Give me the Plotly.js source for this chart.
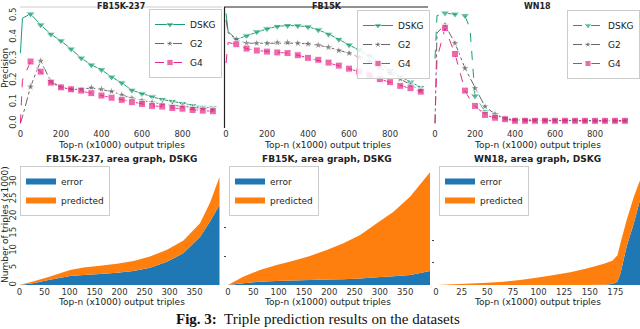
<!DOCTYPE html>
<html>
<head>
<meta charset="utf-8">
<script src="https://cdn.plot.ly/plotly-3.0.1.min.js"></script>
<style>
  html, body { margin: 0; padding: 0; background: #fff; }
  #chart { width: 640px; height: 329px; }
</style>
</head>
<body>
<div id="chart"></div>
<script>
// precision curves, x in thousands of output triples
const fb237_x = [0, 10, 50, 100, 150, 200, 250, 300, 350, 400, 450, 500, 550, 600, 650, 700, 750, 800, 850, 900, 950];
const fb237_dskg = [0.326, 0.488, 0.508, 0.457, 0.414, 0.383, 0.345, 0.303, 0.271, 0.249, 0.215, 0.188, 0.154, 0.137, 0.123, 0.111, 0.102, 0.092, 0.083, 0.075, 0.072];
const fb237_g2 = [0.0, 0.03, 0.17, 0.29, 0.195, 0.168, 0.158, 0.158, 0.165, 0.158, 0.148, 0.132, 0.117, 0.106, 0.097, 0.09, 0.084, 0.08, 0.074, 0.069, 0.065];
const fb237_g4 = [0.0, 0.2, 0.287, 0.24, 0.189, 0.167, 0.158, 0.152, 0.14, 0.129, 0.119, 0.109, 0.098, 0.09, 0.081, 0.078, 0.071, 0.068, 0.062, 0.059, 0.056];

const fb15k_x = [0, 10, 50, 100, 150, 200, 250, 300, 350, 400, 450, 500, 550, 600, 650, 700, 750, 800, 850, 900, 950];
const fb15k_dskg = [0.51, 0.426, 0.39, 0.406, 0.425, 0.439, 0.45, 0.454, 0.453, 0.448, 0.434, 0.414, 0.39, 0.364, 0.341, 0.313, 0.279, 0.245, 0.217, 0.192, 0.167];
const fb15k_g2 = [0.48, 0.42, 0.39, 0.372, 0.372, 0.372, 0.375, 0.375, 0.372, 0.369, 0.363, 0.353, 0.338, 0.326, 0.307, 0.287, 0.26, 0.233, 0.206, 0.178, 0.152];
const fb15k_g4 = [0.28, 0.375, 0.367, 0.347, 0.338, 0.333, 0.329, 0.326, 0.316, 0.304, 0.295, 0.282, 0.268, 0.254, 0.24, 0.223, 0.205, 0.191, 0.174, 0.163, 0.147];

const wn18_x = [0, 10, 50, 100, 150, 175, 200, 250, 300, 350, 400, 450, 500, 550, 600, 650, 700, 750, 800, 850, 900, 950];
const wn18_dskg = [0.3, 0.5, 0.512, 0.507, 0.5, 0.44, 0.127, 0.054, 0.039, 0.023, 0.016, 0.015, 0.015, 0.014, 0.014, 0.013, 0.013, 0.013, 0.012, 0.012, 0.012, 0.012];
const wn18_g2 = [0.0, 0.42, 0.457, 0.372, 0.256, 0.21, 0.163, 0.078, 0.043, 0.023, 0.016, 0.015, 0.014, 0.014, 0.013, 0.013, 0.013, 0.012, 0.012, 0.012, 0.012, 0.012];
const wn18_g4 = [0.0, 0.3, 0.442, 0.322, 0.152, 0.11, 0.081, 0.039, 0.026, 0.019, 0.012, 0.012, 0.012, 0.012, 0.012, 0.012, 0.012, 0.012, 0.012, 0.012, 0.012, 0.012];

// area graphs (x1000 triples)
const area_fb237_x = [0, 27, 61, 101, 128, 161, 195, 228, 261, 295, 328, 361, 381, 400];
const area_fb237_error = [0, 0.5, 1.5, 2.6, 2.9, 3.2, 3.6, 4.1, 5, 6.8, 9.3, 14, 18.5, 23.3];
const area_fb237_pred = [0, 0.5, 1.0, 1.8, 2.2, 2.4, 2.6, 2.9, 3.3, 3.5, 3.7, 4.0, 5.5, 8.2];

const area_fb15k_x = [0, 30, 63, 96, 129, 162, 195, 228, 261, 294, 327, 360, 400];
const area_fb15k_error = [0, 1.2, 2.3, 2.8, 3.1, 3.5, 3.8, 4, 4.6, 5.4, 6.2, 7, 9.8];
const area_fb15k_pred = [0, 4.6, 8.2, 11.2, 13.9, 16.9, 20.8, 25.2, 30.4, 37.9, 45.2, 55, 69.7];

const area_wn18_x = [0, 23, 50, 66, 82, 98, 115, 131, 147, 163, 172, 177, 180, 186, 193, 199];
const area_wn18_error = [0, 0, 0, 0, 0, 0, 0, 0, 0, 0.3, 1, 3, 10.6, 35, 56, 77];
const area_wn18_pred = [0, 0.8, 2.1, 3, 4.5, 6.6, 9, 11.5, 15, 18.7, 21, 24, 27.4, 24, 24, 18];

const prec_ticks = [0, 200, 400, 600, 800];
const prec_yticks = [0, 0.1, 0.2, 0.3, 0.4, 0.5];
const area_ticks = [0, 50, 100, 150, 200, 250, 300, 350];
const area_wn18_ticks = [0, 25, 50, 75, 100, 125, 150, 175];
const area_yticks = [0, 5, 10, 15, 20, 25, 30];

const W = 640, H = 329;
const FONT = 'DejaVu Sans';
const GREEN = '#1b9e77', GRAY = '#666666', PINK = '#e7298a';
const BLUE = '#1f77b4', ORANGE = '#ff7f0e';

const px = v => v / W;
const py = v => 1 - v / H;

// markers only every 50k, like markevery
const markSizes = (xs, s) => xs.map(x => (x > 0 && x % 50 === 0) ? s : 0);

const precision_sets = [
    {x: fb237_x, dskg: fb237_dskg, g2: fb237_g2, g4: fb237_g4},
    {x: fb15k_x, dskg: fb15k_dskg, g2: fb15k_g2, g4: fb15k_g4},
    {x: wn18_x, dskg: wn18_dskg, g2: wn18_g2, g4: wn18_g4},
];
const area_sets = [
    {x: area_fb237_x, error: area_fb237_error, pred: area_fb237_pred},
    {x: area_fb15k_x, error: area_fb15k_error, pred: area_fb15k_pred},
    {x: area_wn18_x, error: area_wn18_error, pred: area_wn18_pred},
];

const data = [];

precision_sets.forEach((d, i) => {
    const ax = i === 0 ? '' : String(i + 1);
    const legend = 'legend' + ax;
    data.push({
        x: d.x, y: d.dskg, xaxis: 'x' + ax, yaxis: 'y' + ax, legend,
        name: 'DSKG', mode: 'lines+markers', type: 'scatter',
        line: {color: GREEN, width: 1, dash: i === 2 ? 'dash' : 'solid'},
        marker: {symbol: 'triangle-down', size: markSizes(d.x, 8), color: GREEN},
    });
    data.push({
        x: d.x, y: d.g2, xaxis: 'x' + ax, yaxis: 'y' + ax, legend,
        name: 'G2', mode: 'lines+markers', type: 'scatter',
        line: {color: GRAY, width: 1, dash: 'dashdot'},
        marker: {symbol: 'star', size: markSizes(d.x, 7), color: GRAY},
    });
    data.push({
        x: d.x, y: d.g4, xaxis: 'x' + ax, yaxis: 'y' + ax, legend,
        name: 'G4', mode: 'lines+markers', type: 'scatter',
        line: {color: PINK, width: 1, dash: 'dash'},
        marker: {symbol: 'square', size: markSizes(d.x, 7), color: PINK},
    });
});

area_sets.forEach((d, i) => {
    const ax = String(i + 4);
    const legend = 'legend' + ax;
    data.push({
        x: d.x, y: d.error, xaxis: 'x' + ax, yaxis: 'y' + ax, legend,
        name: 'error', type: 'scatter', mode: 'none', stackgroup: 's' + ax,
        fillcolor: BLUE,
    });
    data.push({
        x: d.x, y: d.pred, xaxis: 'x' + ax, yaxis: 'y' + ax, legend,
        name: 'predicted', type: 'scatter', mode: 'none', stackgroup: 's' + ax,
        fillcolor: ORANGE,
    });
});

const tickfont = {family: FONT, size: 8.5, color: '#333'};
const baseAxis = {
    showgrid: false, zeroline: false, showline: false, ticks: '',
    tickfont, fixedrange: true,
};

const topY = [py(127), py(7)];
const botY = [py(285), py(168)];

const layout = {
    width: W, height: H,
    margin: {l: 0, r: 0, t: 0, b: 0},
    paper_bgcolor: '#fff', plot_bgcolor: '#fff',
    font: {family: FONT, size: 9, color: '#222'},
    showlegend: true,

    xaxis: {...baseAxis, domain: [px(19), px(222)], range: [-7, 995], tickvals: prec_ticks, anchor: 'y'},
    yaxis: {...baseAxis, domain: topY, range: [-0.017, 0.54], tickvals: prec_yticks, tickformat: '.1f', tickangle: -90, anchor: 'x'},
    xaxis2: {...baseAxis, domain: [px(224), px(430)], range: [-10, 995], tickvals: prec_ticks, anchor: 'y2'},
    yaxis2: {...baseAxis, domain: topY, range: [-0.017, 0.54], showticklabels: false, anchor: 'x2'},
    xaxis3: {...baseAxis, domain: [px(434), px(640)], range: [-5, 1025], tickvals: prec_ticks, anchor: 'y3'},
    yaxis3: {...baseAxis, domain: topY, range: [-0.017, 0.54], showticklabels: false, anchor: 'x3'},

    xaxis4: {...baseAxis, domain: [px(19), px(222)], range: [-1, 405], tickvals: area_ticks, anchor: 'y4'},
    yaxis4: {...baseAxis, domain: botY, range: [0, 34.1], tickvals: area_yticks, tickangle: -90, anchor: 'x4'},
    xaxis5: {...baseAxis, domain: [px(227), px(430)], range: [-2, 399], tickvals: area_ticks, anchor: 'y5'},
    yaxis5: {...baseAxis, domain: botY, range: [0, 82], tickvals: [20, 40], showticklabels: false,
             ticks: 'outside', ticklen: 2, tickcolor: '#444', anchor: 'x5'},
    xaxis6: {...baseAxis, domain: [px(435), px(640)], range: [-1, 199], tickvals: area_wn18_ticks, anchor: 'y6'},
    yaxis6: {...baseAxis, domain: botY, range: [0, 106], tickvals: [20, 40], showticklabels: false,
             ticks: 'outside', ticklen: 2, tickcolor: '#444', anchor: 'x6'},

    shapes: [
        {type: 'line', xref: 'paper', yref: 'paper', x0: px(20), x1: px(222), y0: py(7), y1: py(7),
         line: {color: '#cccccc', width: 1}},
        {type: 'line', xref: 'paper', yref: 'paper', x0: px(224.5), x1: px(224.5), y0: py(128), y1: py(7),
         line: {color: '#222', width: 1.2}},
        {type: 'line', xref: 'paper', yref: 'paper', x0: px(224), x1: px(428), y0: py(7), y1: py(7),
         line: {color: '#222', width: 1}},
    ],
    annotations: [],
};

const legendBase = {
    bgcolor: 'rgba(255,255,255,0.85)', bordercolor: '#cccccc', borderwidth: 1,
    font: {family: FONT, size: 9, color: '#222'}, tracegroupgap: 0,
    itemwidth: 30, yanchor: 'top', traceorder: 'normal',
};
layout.legend = {...legendBase, x: px(222), xanchor: 'right', y: py(9)};
layout.legend2 = {...legendBase, x: px(430), xanchor: 'right', y: py(10)};
layout.legend3 = {...legendBase, x: 1, xanchor: 'right', y: py(10)};
layout.legend4 = {...legendBase, x: px(20), xanchor: 'left', y: py(166)};
layout.legend5 = {...legendBase, x: px(229), xanchor: 'left', y: py(166)};
layout.legend6 = {...legendBase, x: px(439), xanchor: 'left', y: py(166)};

const note = (text, x, y, opts = {}) => layout.annotations.push({
    text, x: px(x), y: py(y), xref: 'paper', yref: 'paper', showarrow: false,
    xanchor: 'center', yanchor: 'middle',
    font: {family: FONT, size: 9, color: '#222'}, ...opts,
});

const centers = [121, 327, 537];
const topTitles = ['FB15K-237', 'FB15K', 'WN18'];
const botTitles = ['FB15K-237, area graph, DSKG', 'FB15K, area graph, DSKG', 'WN18, area graph, DSKG'];
centers.forEach((c, i) => {
    note('<b>' + topTitles[i] + '</b>', c, 0, {yanchor: 'top', font: {family: FONT, size: 8, color: '#222'}});
    note('Top-n (x1000) output triples', c, 145);
    note('<b>' + botTitles[i] + '</b>', c, 159);
    note('Top-n (x1000) output triples', c, 302);
});
note('Precision', 5, 68, {textangle: -90});
note('Number of triples (x1000)', 5, 225, {textangle: -90});
note('<b>Fig. 3:</b>  Triple prediction results on the datasets', 318, 329,
     {yanchor: 'bottom', font: {family: 'Liberation Serif', size: 15, color: '#111'}});

Plotly.newPlot('chart', data, layout, {staticPlot: true, displayModeBar: false});
</script>
</body>
</html>
